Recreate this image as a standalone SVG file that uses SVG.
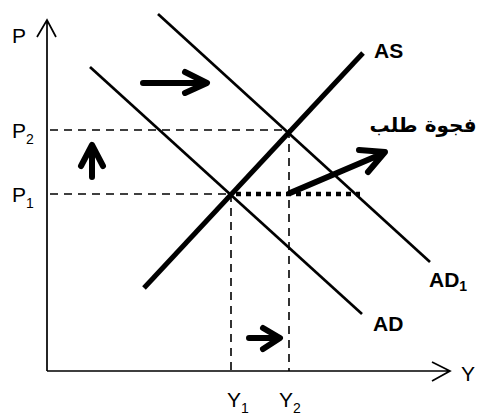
<svg xmlns="http://www.w3.org/2000/svg" width="479" height="419" viewBox="0 0 479 419">
<style>
.ax{stroke:#000;stroke-width:1.7;fill:none}
.dash{stroke:#000;stroke-width:1.6;stroke-dasharray:8,6;fill:none}
.ad{stroke:#000;stroke-width:2.7;fill:none;stroke-linecap:butt}
.as{stroke:#000;stroke-width:5;fill:none}
.arr{stroke:#000;stroke-width:6;fill:none;stroke-linecap:round;stroke-linejoin:round}
.dot{stroke:#000;stroke-width:4.5;stroke-dasharray:5,5;fill:none}
.lbl{font-family:"Liberation Sans",Arial,sans-serif;font-size:21px;fill:#000}
.bl{font-family:"Liberation Sans",Arial,sans-serif;font-size:21px;font-weight:bold;fill:#000}
.sub{font-size:14px}
.ar{font-family:"DejaVu Sans","Noto Sans",sans-serif;font-size:20px;font-weight:bold;fill:#000}
</style>
<rect width="479" height="419" fill="#fff"/>
<g id="axes">
<path class="ax" d="M47,371 V20 M37,37 L47,20 L56,37"/>
<path class="ax" d="M47,371 H450 M432,362 L450,371 L432,381"/>
<text class="lbl" x="12" y="43">P</text>
<text class="lbl" x="461" y="381">Y</text>
</g>
<g id="guides">
<path class="dash" d="M50,130 H289 M50,194 H231 M231,194 V371 M289,130 V371"/>
<text class="lbl" x="12" y="138">P<tspan class="sub" dy="6">2</tspan></text>
<text class="lbl" x="12" y="202">P<tspan class="sub" dy="6">1</tspan></text>
<text class="lbl" x="227" y="407">Y<tspan class="sub" dy="6">1</tspan></text>
<text class="lbl" x="279" y="407">Y<tspan class="sub" dy="6">2</tspan></text>
</g>
<g id="AD">
<line class="ad" x1="90" y1="67" x2="362" y2="314"/>
<text class="bl" x="373" y="331">AD</text>
</g>
<g id="AD1">
<line class="ad" x1="158" y1="14" x2="430" y2="262"/>
<text class="bl" x="429" y="287">AD<tspan class="sub" dy="4">1</tspan></text>
</g>
<g id="AS">
<line class="as" x1="144" y1="288" x2="363" y2="53"/>
<text class="bl" x="374" y="58">AS</text>
</g>
<g id="gap">
<line class="dot" x1="236" y1="194" x2="360" y2="194"/>
<text class="ar" x="423" y="132" text-anchor="middle">فجوة طلب</text>
</g>
<g id="connectors">
<path class="arr" d="M143,83 H206 M185,72 L207,83 L185,93"/>
<path class="arr" d="M92,177 V146 M81,166 L92,145 L103,166"/>
<path class="arr" d="M249,338 H279 M263,328 L280,338 L263,349"/>
<path class="arr" d="M290,193 L384,153 M359,150 L385,152 L368,172"/>
</g>
</svg>
